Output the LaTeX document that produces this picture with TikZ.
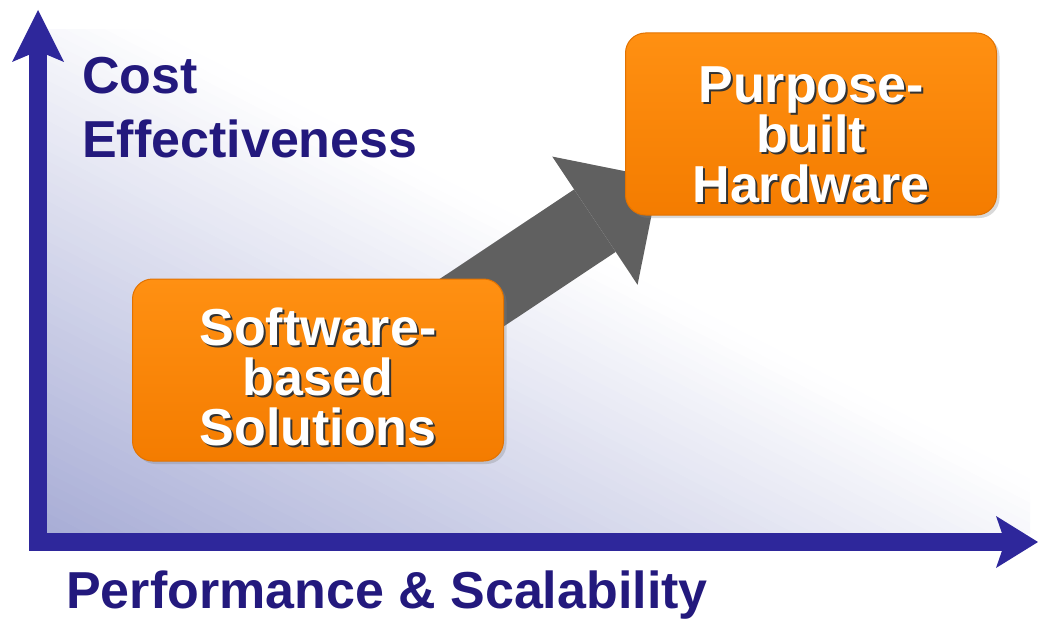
\documentclass[tikz,border=0pt]{standalone}
\usepackage{fontspec}
\setmainfont{Liberation Sans}
\usetikzlibrary{arrows.meta,shadows}
\definecolor{axisblue}{RGB}{46,39,155}
\definecolor{labelblue}{RGB}{35,25,125}
\definecolor{boxtop}{RGB}{255,144,18}
\definecolor{boxbot}{RGB}{244,124,0}
\definecolor{boxedge}{RGB}{226,114,0}
\definecolor{arrowgray}{RGB}{96,96,96}
\definecolor{bglav}{RGB}{168,173,214}
\begin{document}
\begin{tikzpicture}[x=1pt,y=-1pt]
  \tikzstyle{axis}=[axisblue, line width=18pt, line join=miter]
  \tikzstyle{axislabel}=[labelblue, font=\fontsize{52}{64}\selectfont\bfseries, inner sep=0pt, align=left]
  \tikzstyle{orangebox}=[rounded corners=20pt, minimum width=371pt, minimum height=182pt,
    top color=boxtop, bottom color=boxbot, draw=boxedge, line width=1pt,
    drop shadow={shadow xshift=3pt, shadow yshift=-3pt, opacity=0.3}]
  \tikzstyle{boxtext}=[white, font=\fontsize{52}{50}\selectfont\bfseries, align=center, inner sep=0pt]
  \tikzstyle{boxshadow}=[boxtext, text=black!80, xshift=2pt, yshift=-2pt]
  \useasboundingbox (0,0) rectangle (1038,618);
  % background fade, strips along the diagonal
  \begin{scope}
    \clip (47,30) rectangle (1030,533);
    \begin{scope}[shift={(47,533)}, x=983pt, y=503pt]
      \foreach \i in {0,...,54} {
        \pgfmathsetmacro{\ta}{\i/100}
        \pgfmathsetmacro{\tb}{(\i+1.4)/100}
        \pgfmathsetmacro{\pc}{100*(1-(\i+0.5)/55)}
        \fill[bglav!\pc!white] (2*\ta+1,-1) -- (2*\ta-2,2) -- (2*\tb-2,2) -- (2*\tb+1,-1) -- cycle;
      }
    \end{scope}
  \end{scope}
  % axes
  \coordinate (origin) at (38,542);
  \coordinate (ytip) at (38,10);
  \coordinate (xtip) at (1038,542);
  \draw[axis, {Stealth[length=52pt,width=52pt,inset=11pt,line width=0pt]}-{Stealth[length=42pt,width=52pt,inset=9pt,line width=0pt]}]
    (ytip) -- (origin) -- (xtip);
  \node[axislabel, anchor=base west] (ylabel) at (82,157) {Cost\\Effectiveness};
  \node[axislabel, anchor=base west] (xlabel) at (66,608) {Performance \& Scalability};
  % step up
  \coordinate (tail) at (318,405);
  \coordinate (tip) at (659,178);
  \draw[arrowgray, line width=75pt, -{Triangle[length=77pt,width=154pt,line width=0pt]}] (tail) -- (tip);
  \node[orangebox] (sw) at (318,370) {};
  \node[orangebox] (ph) at (811,124) {};
  \node[boxshadow, yshift=-7pt] at (sw) {Software-\\based\\Solutions};
  \node[boxtext, yshift=-7pt] (swtext) at (sw) {Software-\\based\\Solutions};
  \node[boxshadow, yshift=-11pt] at (ph) {Purpose-\\built\\Hardware};
  \node[boxtext, yshift=-11pt] (phtext) at (ph) {Purpose-\\built\\Hardware};
\end{tikzpicture}
\end{document}
